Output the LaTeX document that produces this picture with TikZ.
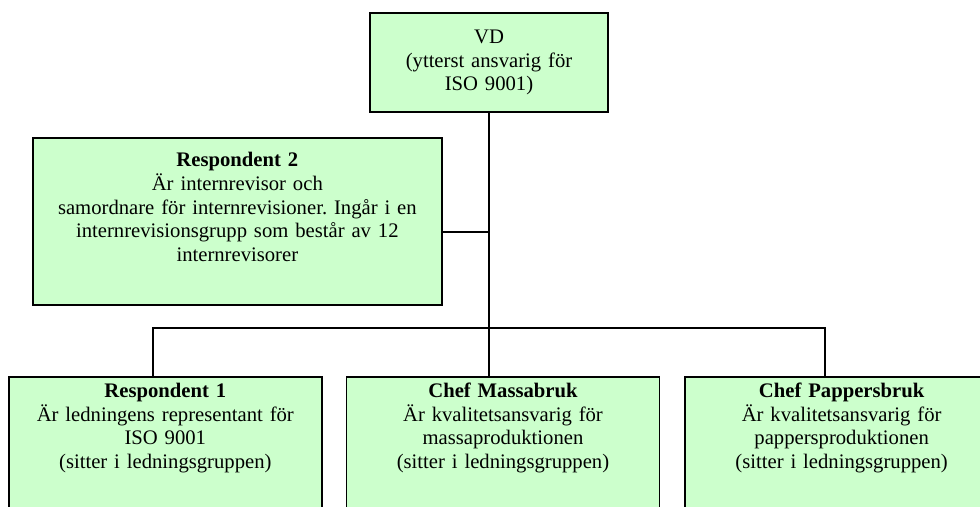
\documentclass[tikz,border=0pt]{standalone}
\usepackage{fontspec}
\setmainfont{Liberation Serif}
\usetikzlibrary{positioning}
\definecolor{boxgreen}{HTML}{CCFFCC}
\frenchspacing

\begin{document}
\begin{tikzpicture}[
    x=0.6pt, y=-0.6pt,
    node distance=13.8pt,
    box_style/.style={
        rectangle,
        draw=black,
        fill=boxgreen,
        line width=1pt,
        inner sep=0pt,
        align=center,
        font=\fontsize{12.4}{14.2}\selectfont
        },
    low_style/.style={
        box_style,
        text width=187.8pt,
        text height=12.3pt,
        text depth=90pt
        },
    edge_style/.style={
        draw=black,
        line width=1pt
        }]

    \useasboundingbox (0,0) rectangle (980,506);
    \clip (0,0) rectangle (980,506);

    \node[box_style, text width=142.8pt, text height=18.4pt, text depth=41pt, anchor=north] (vd) at (489,12)
        {VD\\(ytterst ansvarig för\\ISO 9001)};
    \node[box_style, text width=245.4pt, text height=17.4pt, text depth=82.8pt, anchor=north west] (r2) at (32,137)
        {\textbf{Respondent 2}\\Är internrevisor och\\samordnare för internrevisioner. Ingår i en\\internrevisionsgrupp som består av 12\\internrevisorer};

    \node[low_style, anchor=north west] (r1) at (8,376)
        {\textbf{Respondent 1}\\Är ledningens representant för\\ISO 9001\\(sitter i ledningsgruppen)};
    \node[low_style, right=13.8pt of r1] (mb)
        {\textbf{Chef Massabruk}\\Är kvalitetsansvarig för\\massaproduktionen\\(sitter i ledningsgruppen)};
    \node[low_style, right=14.4pt of mb] (pb)
        {\textbf{Chef Pappersbruk}\\Är kvalitetsansvarig för\\pappersproduktionen\\(sitter i ledningsgruppen)};

    \coordinate (bus_l) at (153,328);
    \coordinate (bus_r) at (825,328);

    \draw[edge_style] (vd.south) -- (vd.south |- mb.north);
    \draw[edge_style] ([yshift=-6.3pt]r2.east) -- ([yshift=-6.3pt]r2.east -| vd.south);
    \draw[edge_style] (bus_l |- r1.north) -- (bus_l) -- (bus_r) -- (bus_r |- pb.north);
\end{tikzpicture}
\end{document}
